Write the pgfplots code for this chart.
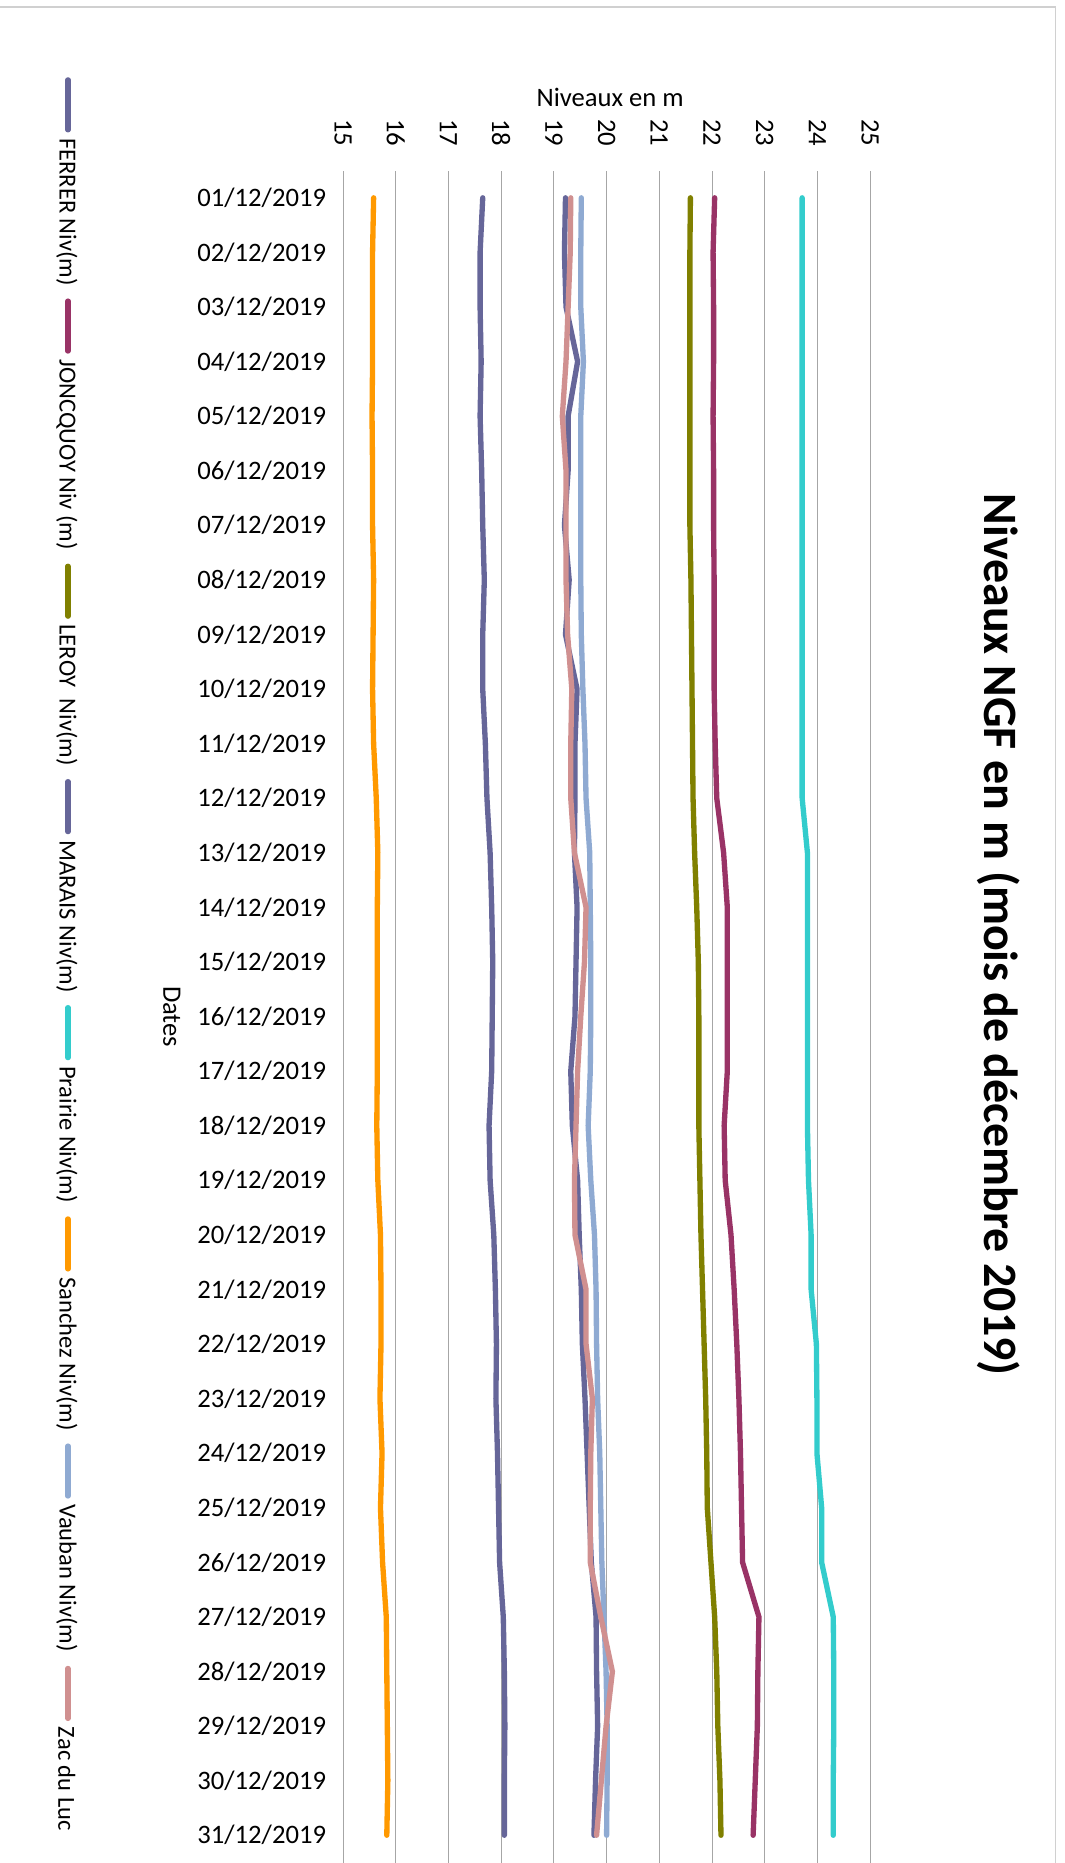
\documentclass[border=0pt]{standalone}
\usepackage{fontspec}
\setmainfont{Carlito}
\usepackage{pgfplots}
\usepackage{pgfplotstable}
\pgfplotsset{compat=1.18}
\definecolor{cFer}{HTML}{666699}
\definecolor{cJon}{HTML}{993366}
\definecolor{cLer}{HTML}{808000}
\definecolor{cMar}{HTML}{666699}
\definecolor{cPra}{HTML}{33CCCC}
\definecolor{cSan}{HTML}{FF9900}
\definecolor{cVau}{HTML}{8FAAD2}
\definecolor{cZac}{HTML}{D09090}
\definecolor{gridc}{HTML}{A6A6A6}
\definecolor{borderc}{HTML}{D0D0D0}

\pgfplotstableread{
d  fer   jon   ler   mar   pra   san   vau   zac
1  17.65 22.05 21.59 19.22 23.71 15.58 19.52 19.32
2  17.60 22.02 21.58 19.20 23.71 15.56 19.51 19.31
3  17.60 22.03 21.58 19.23 23.71 15.56 19.51 19.27
4  17.62 22.03 21.58 19.45 23.71 15.56 19.56 19.23
5  17.60 22.02 21.58 19.27 23.71 15.55 19.51 19.16
6  17.63 22.03 21.58 19.27 23.71 15.56 19.51 19.23
7  17.65 22.03 21.58 19.20 23.71 15.56 19.51 19.23
8  17.68 22.04 21.60 19.29 23.71 15.58 19.51 19.23
9  17.65 22.04 21.61 19.22 23.71 15.57 19.52 19.26
10 17.65 22.04 21.62 19.44 23.71 15.56 19.55 19.34
11 17.70 22.06 21.63 19.40 23.71 15.58 19.59 19.32
12 17.73 22.09 21.64 19.40 23.71 15.63 19.61 19.32
13 17.79 22.22 21.67 19.39 23.81 15.66 19.68 19.39
14 17.82 22.29 21.71 19.44 23.81 15.65 19.69 19.61
15 17.84 22.29 21.74 19.42 23.81 15.65 19.70 19.58
16 17.83 22.29 21.75 19.40 23.81 15.65 19.70 19.51
17 17.82 22.29 21.75 19.32 23.81 15.65 19.69 19.45
18 17.77 22.23 21.75 19.35 23.81 15.64 19.65 19.42
19 17.79 22.25 21.77 19.45 23.83 15.66 19.70 19.39
20 17.86 22.36 21.79 19.48 23.88 15.71 19.77 19.40
21 17.89 22.42 21.82 19.52 23.88 15.72 19.80 19.61
22 17.91 22.47 21.85 19.54 23.98 15.72 19.81 19.61
23 17.90 22.51 21.88 19.59 23.99 15.70 19.83 19.73
24 17.93 22.54 21.90 19.63 23.99 15.74 19.87 19.70
25 17.95 22.56 21.91 19.67 24.08 15.71 19.89 19.69
26 17.97 22.58 21.98 19.71 24.08 15.75 19.91 19.69
27 18.04 22.89 22.05 19.80 24.30 15.82 19.95 19.89
28 18.06 22.87 22.09 19.81 24.31 15.83 19.99 20.11
29 18.07 22.86 22.11 19.83 24.31 15.84 20.01 19.99
30 18.06 22.82 22.15 19.79 24.30 15.85 20.01 19.90
31 18.06 22.78 22.17 19.76 24.30 15.83 20.00 19.81
}\datatable

\begin{document}
\begin{tikzpicture}
\begin{scope}[x=0.375pt,y=-0.375pt]
\useasboundingbox (0,0) rectangle (1066,1863);
\draw[borderc, line width=0.6pt] (0,7) -- (1057,7) -- (1057,1880);
\end{scope}

\begin{axis}[
  at={(227.78pt,-381.71pt)}, anchor=center,
  scale only axis, width=197.93pt, height=635.36pt,
  xmin=15, xmax=25, ymin=-31.5, ymax=-0.5,
  xtick={15,16,...,25},
  ytick={-31,-30,...,-1},
  yticklabels={31/12/2019,30/12/2019,29/12/2019,28/12/2019,27/12/2019,26/12/2019,25/12/2019,24/12/2019,23/12/2019,22/12/2019,21/12/2019,20/12/2019,19/12/2019,18/12/2019,17/12/2019,16/12/2019,15/12/2019,14/12/2019,13/12/2019,12/12/2019,11/12/2019,10/12/2019,09/12/2019,08/12/2019,07/12/2019,06/12/2019,05/12/2019,04/12/2019,03/12/2019,02/12/2019,01/12/2019},
  xticklabel pos=upper,
  xticklabel style={rotate=-90, anchor=east, inner sep=0pt, font=\fontsize{10}{12}\selectfont},
  xticklabel shift=8.9pt,
  yticklabel style={anchor=east, inner sep=0pt, font=\fontsize{10}{12}\selectfont},
  yticklabel shift=6.2pt,
  /pgf/number format/assume math mode=true,
  xmajorgrids, ymajorgrids=false,
  grid style={draw=gridc, line width=0.35pt},
  axis line style={draw=none},
  major tick length=0pt,
]
\addplot[draw=cFer, line width=2pt, line cap=round, line join=round, mark=none] table[x=fer, y expr=-\thisrow{d}] {\datatable};
\addplot[draw=cJon, line width=2pt, line cap=round, line join=round, mark=none] table[x=jon, y expr=-\thisrow{d}] {\datatable};
\addplot[draw=cLer, line width=2pt, line cap=round, line join=round, mark=none] table[x=ler, y expr=-\thisrow{d}] {\datatable};
\addplot[draw=cMar, line width=2pt, line cap=round, line join=round, mark=none] table[x=mar, y expr=-\thisrow{d}] {\datatable};
\addplot[draw=cPra, line width=2pt, line cap=round, line join=round, mark=none] table[x=pra, y expr=-\thisrow{d}] {\datatable};
\addplot[draw=cSan, line width=2pt, line cap=round, line join=round, mark=none] table[x=san, y expr=-\thisrow{d}] {\datatable};
\addplot[draw=cVau, line width=2pt, line cap=round, line join=round, mark=none] table[x=vau, y expr=-\thisrow{d}] {\datatable};
\addplot[draw=cZac, line width=2pt, line cap=round, line join=round, mark=none] table[x=zac, y expr=-\thisrow{d}] {\datatable};
\end{axis}

\begin{scope}[x=0.375pt,y=-0.375pt]
% axis titles
\node[font=\fontsize{10}{12}\selectfont] at (611,98) {Niveaux en m};
\node[rotate=-90, font=\fontsize{10}{12}\selectfont] at (172,1018) {Dates};
% chart title
\node[rotate=-90, font=\fontsize{18}{22}\selectfont\bfseries] at (1000,936) {Niveaux NGF en m (mois de décembre 2019)};
% legend
\begin{scope}[every node/.style={rotate=-90, anchor=west, inner sep=0pt, font=\fontsize{9.2}{11}\selectfont}]
\draw[cFer, line width=2pt, line cap=round] (68,80) -- (68,130);
\node at (67,138) {FERRER Niv(m)};
\draw[cJon, line width=2pt, line cap=round] (68,301.5) -- (68,351.5);
\node at (67,359.5) {JONCQUOY Niv (m)};
\draw[cLer, line width=2pt, line cap=round] (68,567) -- (68,617);
\node at (67,625) {LEROY\ \ Niv(m)};
\draw[cMar, line width=2pt, line cap=round] (68,782.7) -- (68,832.7);
\node at (67,840.7) {MARAIS Niv(m)};
\draw[cPra, line width=2pt, line cap=round] (68,1009) -- (68,1059);
\node at (67,1067) {Prairie Niv(m)};
\draw[cSan, line width=2pt, line cap=round] (68,1220.6) -- (68,1270.6);
\node at (67,1278.6) {Sanchez Niv(m)};
\draw[cVau, line width=2pt, line cap=round] (68,1448) -- (68,1498);
\node at (67,1506) {Vauban Niv(m)};
\draw[cZac, line width=2pt, line cap=round] (68,1670.7) -- (68,1720.7);
\node at (67,1728.7) {Zac du Luc};
\end{scope}
\end{scope}
\end{tikzpicture}
\end{document}
